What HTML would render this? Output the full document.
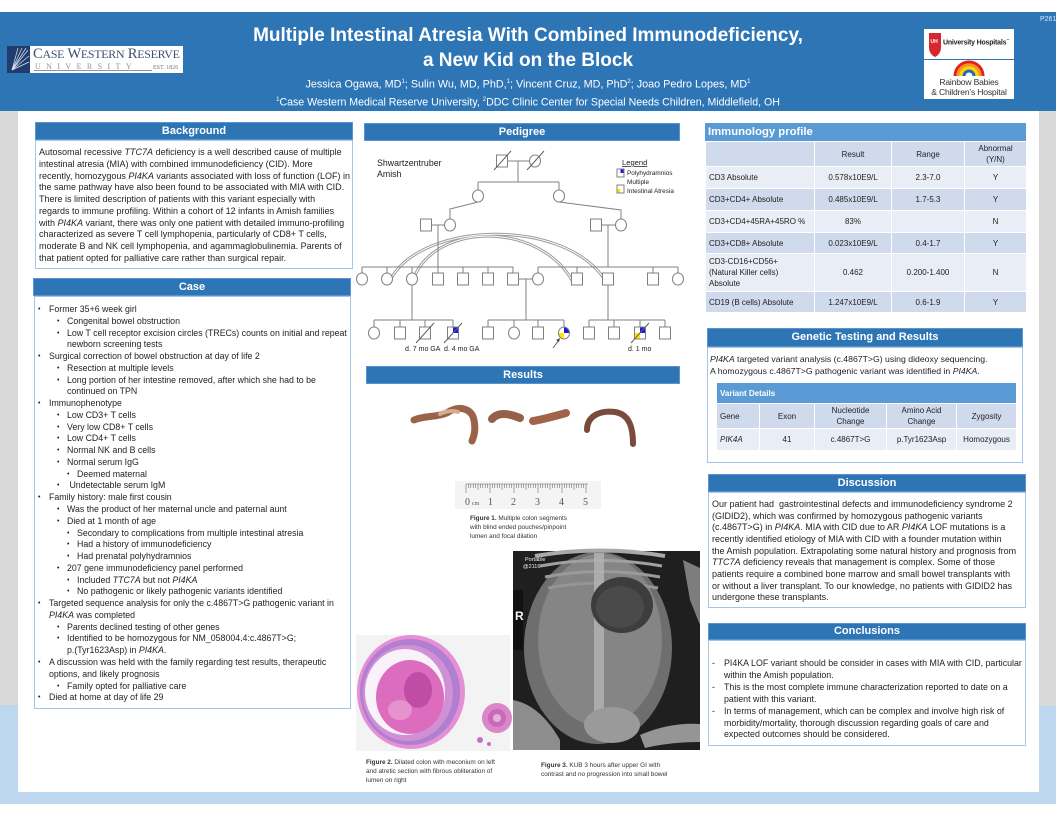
<!DOCTYPE html>
<html><head><meta charset="utf-8">
<style>
*{margin:0;padding:0;box-sizing:border-box}
html,body{width:1056px;height:816px;overflow:hidden;background:#fff;font-family:"Liberation Sans",Arial,sans-serif;color:#1f1f1f}
.a{position:absolute}
.bar{position:absolute;background:#2e75b6;border:1px solid #5a94d0;color:#fff;font-weight:bold;font-size:11px;text-align:center;line-height:16px}
.box{position:absolute;background:#fff;border:1px solid #a9c5e6}
.t{position:absolute;font-size:8.5px;line-height:11.76px;white-space:nowrap;color:#1f1f1f}
.l1,.l2,.l3,.c1,.c2{position:relative;white-space:nowrap}
.l1{padding-left:15px}.l2{padding-left:33px}.l3{padding-left:43px}
.c1{padding-left:15px}.c2{padding-left:33px}
.l1 b,.l2 b,.l3 b{position:absolute;font-weight:normal;font-size:7px}
.l1 b{left:4px}.l2 b{left:23px}.l3 b{left:33px}
table{border-collapse:collapse;table-layout:fixed;font-size:8px;color:#222}
td{border:1px solid #fff;text-align:center;vertical-align:middle;line-height:11px;padding:0 2px}
td.l{text-align:left;padding-left:3px}
.dk td{background:#cfdaed}
.lt td{background:#e8edf6}
.cap{position:absolute;font-size:6.4px;line-height:9px;white-space:nowrap;color:#333}
</style></head><body>

<!-- frame -->
<div class="a" style="left:0;top:12px;width:1056px;height:99px;background:#2e75b6"></div>
<div class="a" style="left:0;top:111px;width:18px;height:594px;background:#d9d9d9"></div>
<div class="a" style="left:0;top:705px;width:18px;height:99px;background:#bdd7ee"></div>
<div class="a" style="left:1039px;top:111px;width:17px;height:595px;background:#d9d9d9"></div>
<div class="a" style="left:1039px;top:706px;width:17px;height:98px;background:#bdd7ee"></div>
<div class="a" style="left:0;top:792px;width:1056px;height:12px;background:#bdd7ee"></div>

<!-- header text -->
<div class="a" style="left:1040px;top:16px;font-size:7px;color:#dbe7f5">P261</div>
<div class="a" style="left:0;top:24px;width:1056px;text-align:center;color:#fff;font-weight:bold;font-size:19px;line-height:24px">Multiple Intestinal Atresia With Combined Immunodeficiency,</div>
<div class="a" style="left:0;top:49px;width:1056px;text-align:center;color:#fff;font-weight:bold;font-size:19px;line-height:24px">a New Kid on the Block</div>
<div class="a" style="left:0;top:75px;width:1056px;text-align:center;color:#fff;font-size:10.8px;line-height:14px">Jessica Ogawa, MD<sup style="font-size:6px">1</sup>; Sulin Wu, MD, PhD,<sup style="font-size:6px">1</sup>; Vincent Cruz, MD, PhD<sup style="font-size:6px">2</sup>; Joao Pedro Lopes, MD<sup style="font-size:6px">1</sup></div>
<div class="a" style="left:0;top:93px;width:1056px;text-align:center;color:#fff;font-size:10.6px;line-height:14px"><sup style="font-size:6px">1</sup>Case Western Medical Reserve University, <sup style="font-size:6px">2</sup>DDC Clinic Center for Special Needs Children, Middlefield, OH</div>

<!-- CWRU logo -->
<div class="a" style="left:30px;top:46px;width:153px;height:27px;background:#fff"></div>
<div class="a" style="left:33px;top:46px;font-family:'Liberation Serif',serif;font-size:14.6px;color:#3e5070;letter-spacing:-0.25px;white-space:nowrap;line-height:16px">C<span style="font-size:11.9px">ASE</span> W<span style="font-size:11.9px">ESTERN</span> R<span style="font-size:11.9px">ESERVE</span></div>
<div class="a" style="left:35px;top:62px;font-family:'Liberation Serif',serif;font-size:8px;color:#8b95a7;letter-spacing:5.4px;white-space:nowrap;line-height:9px">UNIVERSITY</div>
<div class="a" style="left:34px;top:70px;width:118px;height:1px;background:#8b95a7"></div>
<div class="a" style="left:153px;top:65px;font-family:'Liberation Serif',serif;font-size:6px;color:#6b7587;white-space:nowrap">EST. 1826</div>

<!-- right logos -->
<div class="a" style="left:924px;top:29px;width:90px;height:30px;background:#fff"></div>
<div class="a" style="left:924px;top:60px;width:90px;height:39px;background:#fff"></div>
<div class="a" style="left:943px;top:38px;font-size:7px;font-weight:bold;color:#222;white-space:nowrap;letter-spacing:-0.2px">University Hospitals<sup style="font-size:3px">™</sup></div>
<div class="a" style="left:924px;top:77px;width:90px;text-align:center;font-size:8.6px;color:#333;line-height:10px;white-space:nowrap;letter-spacing:-0.2px">Rainbow Babies<br>&amp; Children’s Hospital</div>

<!-- section bars / boxes -->
<div class="bar" style="left:35px;top:122px;width:318px;height:18px">Background</div>
<div class="box" style="left:35px;top:140px;width:318px;height:129px"></div>
<div class="bar" style="left:33px;top:278px;width:318px;height:18px">Case</div>
<div class="box" style="left:34px;top:296px;width:317px;height:413px"></div>
<div class="bar" style="left:364px;top:123px;width:316px;height:18px">Pedigree</div>
<div class="bar" style="left:366px;top:366px;width:314px;height:18px">Results</div>
<div class="a" style="left:705px;top:123px;width:321px;height:18px;background:#5b9bd5;color:#fff;font-weight:bold;font-size:11.3px;line-height:18px;padding-left:3px">Immunology profile</div>
<div class="bar" style="left:707px;top:328px;width:316px;height:19px;line-height:17px">Genetic Testing and Results</div>
<div class="box" style="left:707px;top:347px;width:316px;height:116px"></div>
<div class="bar" style="left:708px;top:474px;width:318px;height:18px">Discussion</div>
<div class="box" style="left:708px;top:492px;width:318px;height:116px"></div>
<div class="bar" style="left:708px;top:623px;width:318px;height:17px;line-height:15px">Conclusions</div>
<div class="box" style="left:708px;top:640px;width:318px;height:106px"></div>

<!-- Background text -->
<div class="t" style="left:39px;top:147px;font-size:9px">
Autosomal recessive <i>TTC7A</i> deficiency is a well described cause of multiple<br>
intestinal atresia (MIA) with combined immunodeficiency (CID). More<br>
recently, homozygous <i>PI4KA</i> variants associated with loss of function (LOF) in<br>
the same pathway have also been found to be associated with MIA with CID.<br>
There is limited description of patients with this variant especially with<br>
regards to immune profiling. Within a cohort of 12 infants in Amish families<br>
with <i>PI4KA</i> variant, there was only one patient with detailed immuno-profiling<br>
characterized as severe T cell lymphopenia, particularly of CD8+ T cells,<br>
moderate B and NK cell lymphopenia, and agammaglobulinemia. Parents of<br>
that patient opted for palliative care rather than surgical repair.
</div>

<!-- Case text -->
<div class="t" style="left:34px;top:304px;font-size:8.8px">
<div class="l1"><b>•</b>Former 35+6 week girl</div>
<div class="l2"><b>•</b>Congenital bowel obstruction</div>
<div class="l2"><b>•</b>Low T cell receptor excision circles (TRECs) counts on initial and repeat</div>
<div class="c2">newborn screening tests</div>
<div class="l1"><b>•</b>Surgical correction of bowel obstruction at day of life 2</div>
<div class="l2"><b>•</b>Resection at multiple levels</div>
<div class="l2"><b>•</b>Long portion of her intestine removed, after which she had to be</div>
<div class="c2">continued on TPN</div>
<div class="l1"><b>•</b>Immunophenotype</div>
<div class="l2"><b>•</b>Low CD3+ T cells</div>
<div class="l2"><b>•</b>Very low CD8+ T cells</div>
<div class="l2"><b>•</b>Low CD4+ T cells</div>
<div class="l2"><b>•</b>Normal NK and B cells</div>
<div class="l2"><b>•</b>Normal serum IgG</div>
<div class="l3"><b>•</b>Deemed maternal</div>
<div class="l2"><b>•</b>&nbsp;Undetectable serum IgM</div>
<div class="l1"><b>•</b>Family history: male first cousin</div>
<div class="l2"><b>•</b>Was the product of her maternal uncle and paternal aunt</div>
<div class="l2"><b>•</b>Died at 1 month of age</div>
<div class="l3"><b>•</b>Secondary to complications from multiple intestinal atresia</div>
<div class="l3"><b>•</b>Had a history of immunodeficiency</div>
<div class="l3"><b>•</b>Had prenatal polyhydramnios</div>
<div class="l2"><b>•</b>207 gene immunodeficiency panel performed</div>
<div class="l3"><b>•</b>Included <i>TTC7A</i> but not <i>PI4KA</i></div>
<div class="l3"><b>•</b>No pathogenic or likely pathogenic variants identified</div>
<div class="l1"><b>•</b>Targeted sequence analysis for only the c.4867T&gt;G pathogenic variant in</div>
<div class="c1"><i>PI4KA</i> was completed</div>
<div class="l2"><b>•</b>Parents declined testing of other genes</div>
<div class="l2"><b>•</b>Identified to be homozygous for NM_058004.4:c.4867T&gt;G;</div>
<div class="c2">p.(Tyr1623Asp) in <i>PI4KA</i>.</div>
<div class="l1"><b>•</b>A discussion was held with the family regarding test results, therapeutic</div>
<div class="c1">options, and likely prognosis</div>
<div class="l2"><b>•</b>Family opted for palliative care</div>
<div class="l1"><b>•</b>Died at home at day of life 29</div>
</div>

<!-- Immunology table -->
<table class="a" style="left:705px;top:141px;width:321px">
<colgroup><col style="width:109px"><col style="width:77px"><col style="width:73px"><col style="width:62px"></colgroup>
<tr class="dk" style="height:25px"><td></td><td>Result</td><td>Range</td><td>Abnormal<br>(Y/N)</td></tr>
<tr class="lt" style="height:22px"><td class="l">CD3 Absolute</td><td>0.578x10E9/L</td><td>2.3-7.0</td><td>Y</td></tr>
<tr class="dk" style="height:22px"><td class="l">CD3+CD4+ Absolute</td><td>0.485x10E9/L</td><td>1.7-5.3</td><td>Y</td></tr>
<tr class="lt" style="height:22px"><td class="l">CD3+CD4+45RA+45RO %</td><td>83%</td><td></td><td>N</td></tr>
<tr class="dk" style="height:21px"><td class="l">CD3+CD8+ Absolute</td><td>0.023x10E9/L</td><td>0.4-1.7</td><td>Y</td></tr>
<tr class="lt" style="height:38px"><td class="l">CD3-CD16+CD56+<br>(Natural Killer cells)<br>Absolute</td><td>0.462</td><td>0.200-1.400</td><td>N</td></tr>
<tr class="dk" style="height:21px"><td class="l">CD19 (B cells) Absolute</td><td>1.247x10E9/L</td><td>0.6-1.9</td><td>Y</td></tr>
</table>

<!-- Genetic text -->
<div class="t" style="left:710px;top:353px;line-height:12.4px;font-size:8.7px"><i>PI4KA</i> targeted variant analysis (c.4867T&gt;G) using dideoxy sequencing.<br>A homozygous c.4867T&gt;G pathogenic variant was identified in <i>PI4KA</i>.</div>
<table class="a" style="left:716px;top:382px;width:300px">
<colgroup><col style="width:43px"><col style="width:55px"><col style="width:72px"><col style="width:70px"><col style="width:60px"></colgroup>
<tr style="height:21px"><td colspan="5" class="l" style="background:#5b9bd5;color:#fff;font-weight:bold">Variant Details</td></tr>
<tr class="dk" style="height:25px"><td class="l">Gene</td><td>Exon</td><td>Nucleotide<br>Change</td><td>Amino Acid<br>Change</td><td>Zygosity</td></tr>
<tr class="lt" style="height:22px"><td class="l"><i>PIK4A</i></td><td>41</td><td>c.4867T&gt;G</td><td>p.Tyr1623Asp</td><td>Homozygous</td></tr>
</table>

<!-- Discussion -->
<div class="t" style="left:712px;top:499px;line-height:11.65px;font-size:9px">
Our patient had&nbsp; gastrointestinal defects and immunodeficiency syndrome 2<br>
(GIDID2), which was confirmed by homozygous pathogenic variants<br>
(c.4867T&gt;G) in <i>PI4KA</i>. MIA with CID due to AR <i>PI4KA</i> LOF mutations is a<br>
recently identified etiology of MIA with CID with a founder mutation within<br>
the Amish population. Extrapolating some natural history and prognosis from<br>
<i>TTC7A</i> deficiency reveals that management is complex. Some of those<br>
patients require a combined bone marrow and small bowel transplants with<br>
or without a liver transplant. To our knowledge, no patients with GIDID2 has<br>
undergone these transplants.
</div>

<!-- Conclusions -->
<div class="t" style="left:712px;top:658px;line-height:11.9px;font-size:8.85px">
<div style="position:relative;padding-left:12px"><span style="position:absolute;left:0">-</span>PI4KA LOF variant should be consider in cases with MIA with CID, particular<br>within the Amish population.</div>
<div style="position:relative;padding-left:12px"><span style="position:absolute;left:0">-</span>This is the most complete immune characterization reported to date on a<br>patient with this variant.</div>
<div style="position:relative;padding-left:12px"><span style="position:absolute;left:0">-</span>In terms of management, which can be complex and involve high risk of<br>morbidity/mortality, thorough discussion regarding goals of care and<br>expected outcomes should be considered.</div>
</div>

<!-- captions -->
<div class="cap" style="left:470px;top:514px"><b>Figure 1.</b> Multiple colon segments<br>with blind ended pouches/pinpoint<br>lumen and focal dilation</div>
<div class="cap" style="left:366px;top:758px"><b>Figure 2.</b> Dilated colon with meconium on left<br>and atretic section with fibrous obliteration of<br>lumen on right</div>
<div class="cap" style="left:541px;top:761px"><b>Figure 3.</b> KUB 3 hours after upper GI with<br>contrast and no progression into small bowel</div>

<svg class="a" style="left:0;top:0" width="1056" height="816" viewBox="0 0 1056 816">
<!-- CWRU icon -->
<rect x="7" y="46" width="23" height="27" fill="#1e3d6e"/>
<g stroke="#dfe6f0" stroke-width="0.7">
<line x1="12" y1="70" x2="28" y2="50"/><line x1="12" y1="70" x2="26" y2="48"/><line x1="12" y1="70" x2="22" y2="48"/>
<line x1="12" y1="70" x2="29" y2="56"/><line x1="12" y1="70" x2="29" y2="62"/><line x1="12" y1="70" x2="18" y2="48"/>
</g>
<!-- UH shield -->
<path d="M929,33 L941,33 L941,47 Q941,54 935,57 Q929,54 929,47 Z" fill="#d7262e"/>
<text x="930.5" y="43" font-size="5" fill="#fff" font-weight="bold" font-family="Liberation Sans">UH</text>
<!-- rainbow -->
<g fill="none" stroke-width="3">
<path d="M955,76 A14,14 0 0 1 983,76" stroke="#e2231a"/>
<path d="M958,76 A11,11 0 0 1 980,76" stroke="#f7941d"/>
<path d="M961,76 A8,8 0 0 1 977,76" stroke="#ffd200"/>
<path d="M964,76 A5,5 0 0 1 974,76" stroke="#1f6bb5"/>
</g>

<!-- Pedigree -->
<g font-family="Liberation Sans" fill="#222">
<text x="377" y="166" font-size="8.8">Shwartzentruber</text>
<text x="377" y="177" font-size="8.8">Amish</text>
<text x="622" y="165" font-size="7.6" text-decoration="underline">Legend</text>
<text x="627" y="175" font-size="6.4">Polyhydramnios</text>
<text x="627" y="184" font-size="6.4">Multiple</text>
<text x="627" y="193" font-size="6.4">Intestinal Atresia</text>
<text x="405" y="351" font-size="7">d. 7 mo GA</text>
<text x="444" y="351" font-size="7">d. 4 mo GA</text>
<text x="628" y="351" font-size="7">d. 1 mo</text>
</g>
<!-- consanguinity curves -->
<g fill="none">
<path d="M392,277 C425,222 560,218 603,277" stroke="#9a9a9a" stroke-width="3"/>
<path d="M415,275 C440,222 540,222 573,282" stroke="#9a9a9a" stroke-width="3"/>
<path d="M392,277 C425,222 560,218 603,277" stroke="#fff" stroke-width="1"/>
<path d="M415,275 C440,222 540,222 573,282" stroke="#fff" stroke-width="1"/>
</g>
<g stroke="#808080" stroke-width="1" fill="none">
<line x1="508" y1="161" x2="530" y2="161"/>
<line x1="518" y1="161" x2="518" y2="182"/>
<line x1="478" y1="182" x2="559" y2="182"/>
<line x1="478" y1="182" x2="478" y2="190"/>
<line x1="559" y1="182" x2="559" y2="190"/>
<polyline points="478,202 450,209 450,219"/>
<polyline points="559,202 621,210 621,219"/>
<line x1="431" y1="225" x2="445" y2="225"/>
<line x1="438" y1="225" x2="438" y2="267"/>
<line x1="601" y1="225" x2="616" y2="225"/>
<line x1="608" y1="225" x2="608" y2="267"/>
<line x1="362" y1="267" x2="513" y2="267"/>
<line x1="538" y1="267" x2="678" y2="267"/>
<line x1="362" y1="267" x2="362" y2="273"/><line x1="387" y1="267" x2="387" y2="273"/><line x1="412" y1="267" x2="412" y2="273"/>
<line x1="438" y1="267" x2="438" y2="273"/><line x1="463" y1="267" x2="463" y2="273"/><line x1="488" y1="267" x2="488" y2="273"/>
<line x1="513" y1="267" x2="513" y2="273"/><line x1="538" y1="267" x2="538" y2="273"/><line x1="577" y1="267" x2="577" y2="273"/>
<line x1="653" y1="267" x2="653" y2="273"/><line x1="678" y1="267" x2="678" y2="273"/>
<line x1="518" y1="279" x2="533" y2="279"/>
<line x1="526" y1="279" x2="526" y2="320"/>
<line x1="412" y1="285" x2="412" y2="320"/>
<line x1="608" y1="285" x2="608" y2="320"/>
<line x1="374" y1="320" x2="453" y2="320"/>
<line x1="488" y1="320" x2="564" y2="320"/>
<line x1="589" y1="320" x2="665" y2="320"/>
<line x1="374" y1="320" x2="374" y2="327"/><line x1="400" y1="320" x2="400" y2="327"/><line x1="425" y1="320" x2="425" y2="327"/><line x1="453" y1="320" x2="453" y2="327"/>
<line x1="488" y1="320" x2="488" y2="327"/><line x1="514" y1="320" x2="514" y2="327"/><line x1="538" y1="320" x2="538" y2="327"/><line x1="564" y1="320" x2="564" y2="327"/>
<line x1="589" y1="320" x2="589" y2="327"/><line x1="614" y1="320" x2="614" y2="327"/><line x1="640" y1="320" x2="640" y2="327"/><line x1="665" y1="320" x2="665" y2="327"/>
</g>
<g stroke="#808080" stroke-width="1" fill="#fff">
<rect x="496.5" y="155" width="11" height="12"/>
<ellipse cx="535" cy="161" rx="5.5" ry="6"/>
<ellipse cx="478" cy="196" rx="5.5" ry="6"/>
<ellipse cx="559" cy="196" rx="5.5" ry="6"/>
<rect x="420.5" y="219" width="11" height="12"/>
<ellipse cx="450" cy="225" rx="5.5" ry="6"/>
<rect x="590.5" y="219" width="11" height="12"/>
<ellipse cx="621" cy="225" rx="5.5" ry="6"/>
<ellipse cx="362" cy="279" rx="5.5" ry="6"/>
<ellipse cx="387" cy="279" rx="5.5" ry="6"/>
<ellipse cx="412" cy="279" rx="5.5" ry="6"/>
<rect x="432.5" y="273" width="11" height="12"/>
<rect x="457.5" y="273" width="11" height="12"/>
<rect x="482.5" y="273" width="11" height="12"/>
<rect x="507.5" y="273" width="11" height="12"/>
<ellipse cx="538" cy="279" rx="5.5" ry="6"/>
<rect x="571.5" y="273" width="11" height="12"/>
<rect x="602.5" y="273" width="11" height="12"/>
<rect x="647.5" y="273" width="11" height="12"/>
<ellipse cx="678" cy="279" rx="5.5" ry="6"/>
<ellipse cx="374" cy="333" rx="5.5" ry="6"/>
<rect x="394.5" y="327" width="11" height="12"/>
<rect x="419.5" y="327" width="11" height="12"/>
<rect x="447.5" y="327" width="11" height="12"/>
<rect x="482.5" y="327" width="11" height="12"/>
<ellipse cx="514" cy="333" rx="5.5" ry="6"/>
<rect x="532.5" y="327" width="11" height="12"/>
<rect x="583.5" y="327" width="11" height="12"/>
<rect x="608.5" y="327" width="11" height="12"/>
<rect x="634.5" y="327" width="11" height="12"/>
<rect x="659.5" y="327" width="11" height="12"/>
<rect x="617" y="169" width="7" height="8"/>
<rect x="617" y="185" width="7" height="8"/>
</g>
<!-- affected fills -->
<rect x="453" y="327.5" width="5" height="5.5" fill="#1a1ae6"/>
<path d="M564,333 L564,327 A5.5,6 0 0 1 569.5,333 Z" fill="#1a1ae6"/>
<path d="M564,333 L564,339 A5.5,6 0 0 1 558.5,333 Z" fill="#ffe800"/>
<ellipse cx="564" cy="333" rx="5.5" ry="6" fill="none" stroke="#808080"/>
<rect x="640" y="327.5" width="5" height="5.5" fill="#1a1ae6"/>
<rect x="635" y="333" width="5" height="5.5" fill="#ffe800"/>
<rect x="620.5" y="169.5" width="3" height="3.5" fill="#1a1ae6"/>
<rect x="617.5" y="189" width="3" height="3.5" fill="#ffe800"/>
<g stroke="#606060" stroke-width="1">
<line x1="416" y1="343" x2="434" y2="323"/>
<line x1="444" y1="343" x2="462" y2="323"/>
<line x1="631" y1="343" x2="649" y2="323"/>
<line x1="494" y1="170" x2="511" y2="151"/>
<line x1="527" y1="170" x2="544" y2="151"/>
<line x1="553" y1="348" x2="559" y2="340"/>
</g>
<path d="M560,338 L556,340 L559,342 Z" fill="#444"/>

<!-- colon segments -->
<g fill="none" stroke-linecap="round" stroke-linejoin="round">
<path d="M414,420 C425,415 440,418 450,411 C462,405 472,410 474,420 C476,430 474,436 472,441" stroke="#9a6248" stroke-width="7"/>
<path d="M440,414 C446,411 452,410 458,412" stroke="#d2b08f" stroke-width="4"/>
<path d="M492,419 C498,412 508,413 520,418" stroke="#94604a" stroke-width="8"/>
<path d="M533,421 C545,419 555,416 566,413" stroke="#a0644a" stroke-width="8"/>
<path d="M587,430 C587,416 600,410 615,412 C628,414 633,425 633,444" stroke="#7a4a3a" stroke-width="6"/>
</g>
<!-- ruler -->
<rect x="455" y="481" width="146" height="28" fill="#f4f4f4"/>
<line x1="466" y1="484" x2="588" y2="484" stroke="#666" stroke-width="0.6"/>
<g stroke="#555" stroke-width="0.5">
<path d="M466,484v9M468.4,484v4M470.8,484v4M473.2,484v4M475.6,484v4M478,484v6M480.4,484v4M482.8,484v4M485.2,484v4M487.6,484v4M490,484v9M492.4,484v4M494.8,484v4M497.2,484v4M499.6,484v4M502,484v6M504.4,484v4M506.8,484v4M509.2,484v4M511.6,484v4M514,484v9M516.4,484v4M518.8,484v4M521.2,484v4M523.6,484v4M526,484v6M528.4,484v4M530.8,484v4M533.2,484v4M535.6,484v4M538,484v9M540.4,484v4M542.8,484v4M545.2,484v4M547.6,484v4M550,484v6M552.4,484v4M554.8,484v4M557.2,484v4M559.6,484v4M562,484v9M564.4,484v4M566.8,484v4M569.2,484v4M571.6,484v4M574,484v6M576.4,484v4M578.8,484v4M581.2,484v4M583.6,484v4M586,484v9"/>
</g>
<g font-family="Liberation Serif" font-size="10" fill="#555">
<text x="465" y="505">0</text><text x="472" y="505" font-size="6">cm</text>
<text x="488" y="505">1</text><text x="511" y="505">2</text><text x="535" y="505">3</text><text x="559" y="505">4</text><text x="583" y="505">5</text>
</g>

<!-- histology -->
<rect x="356" y="635" width="154" height="116" fill="#f3f3f3"/>
<ellipse cx="411" cy="692" rx="54" ry="57" fill="#e48fd6"/>
<ellipse cx="410" cy="692" rx="50" ry="53" fill="#b07fd0"/>
<ellipse cx="408" cy="693" rx="45" ry="48" fill="#d090d6"/>
<ellipse cx="405" cy="692" rx="40" ry="43" fill="#faf2fa"/>
<ellipse cx="410" cy="697" rx="34" ry="37" fill="#dc6cbd"/>
<ellipse cx="418" cy="690" rx="14" ry="18" fill="#c04ca6"/>
<ellipse cx="400" cy="710" rx="12" ry="10" fill="#e693cd"/>
<circle cx="497" cy="718" r="15" fill="#dc86c9"/>
<circle cx="497" cy="718" r="9" fill="#c56bb9"/>
<circle cx="497" cy="718" r="4" fill="#eab0dc"/>
<circle cx="480" cy="740" r="3" fill="#c870c0"/><circle cx="489" cy="744" r="2" fill="#c870c0"/>

<!-- x-ray -->
<rect x="513" y="551" width="187" height="199" fill="#1f1f1f"/>
<ellipse cx="598" cy="648" rx="74" ry="96" fill="#6e6e6e"/>
<ellipse cx="600" cy="640" rx="62" ry="86" fill="#858585"/>
<path d="M535,556 Q600,545 665,556" fill="none" stroke="#a9a9a9" stroke-width="4"/>
<path d="M540,566 Q600,555 662,566" fill="none" stroke="#a0a0a0" stroke-width="3"/>
<path d="M545,577 Q600,566 660,577" fill="none" stroke="#9a9a9a" stroke-width="3"/>
<path d="M548,588 Q600,578 658,588" fill="none" stroke="#959595" stroke-width="3"/>
<rect x="594" y="553" width="10" height="170" fill="#b4b4b4" opacity="0.8"/>
<ellipse cx="622" cy="605" rx="31" ry="28" fill="#3d3d3d"/>
<ellipse cx="620" cy="607" rx="24" ry="21" fill="#4a4a4a"/>
<path d="M513,700 Q540,705 560,740 L560,750 L513,750 Z" fill="#8d8d8d"/>
<path d="M640,735 Q670,722 700,724 L700,742 Q670,742 645,748 Z" fill="#959595"/>
<path d="M683,560 L700,568 L700,625 L690,600 Z" fill="#7d7d7d"/>
<ellipse cx="612" cy="725" rx="28" ry="18" fill="#9a9a9a"/>
<rect x="513" y="590" width="10" height="60" fill="#111"/>
<text x="525" y="561" font-size="5.5" fill="#eee" font-family="Liberation Sans">Portable</text>
<text x="523" y="568" font-size="5.5" fill="#eee" font-family="Liberation Sans">@2116</text>
<text x="515" y="620" font-size="12" fill="#f4f4f4" font-weight="bold" font-family="Liberation Sans">R</text>
</svg>
</body></html>
